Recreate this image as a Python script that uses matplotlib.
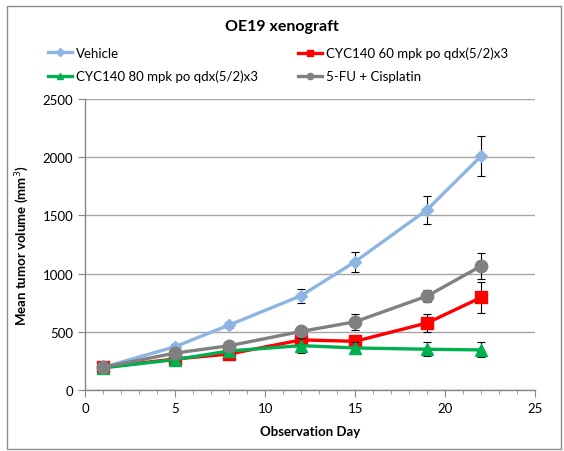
import matplotlib
matplotlib.use("Agg")
import matplotlib.pyplot as plt
from matplotlib.ticker import MultipleLocator
from matplotlib.patches import Rectangle
from matplotlib.lines import Line2D

plt.rcParams['font.family'] = ['Lato', 'DejaVu Sans']

days = [1, 5, 8, 12, 15, 19, 22]

vehicle = [195, 372, 558, 810, 1102, 1549, 2010]
vehicle_err = [15, 20, 25, 60, 85, 120, 170]

cyc60 = [195, 266, 309, 430, 418, 576, 795]
cyc60_err = [10, 15, 20, 30, 40, 75, 130]

cyc80 = [190, 261, 335, 381, 361, 350, 344]
cyc80_err = [10, 15, 20, 65, 50, 60, 65]

fu_cis = [195, 317, 380, 503, 586, 807, 1065]
fu_cis_err = [10, 15, 20, 30, 70, 55, 110]

labels = ["Vehicle", "CYC140 60 mpk po qdx(5/2)x3",
          "CYC140 80 mpk po qdx(5/2)x3", "5-FU + Cisplatin"]
colors = ["#8db4e2", "#ff0000", "#00b050", "#808080"]
markers = ["D", "s", "^", "o"]

fig = plt.figure(figsize=(5.64, 4.52), dpi=100)
ax = fig.add_axes([0.151, 0.135, 0.798, 0.644])

# rahmen um das ganze diagramm
fig.patches.append(Rectangle((0.012, 0.005), 0.982, 0.98, transform=fig.transFigure,
                             fill=False, edgecolor="#8c8c8c", linewidth=1.0))

err_kw = dict(ecolor="black", elinewidth=0.8, capsize=3, capthick=0.8)

ax.errorbar(days, vehicle, yerr=vehicle_err, color=colors[0], marker=markers[0],
            markersize=6, linewidth=2.4, zorder=3, **err_kw)
ax.errorbar(days, cyc60, yerr=cyc60_err, color=colors[1], marker=markers[1],
            markersize=8, linewidth=2.4, zorder=4, **err_kw)
ax.errorbar(days, cyc80, yerr=cyc80_err, color=colors[2], marker=markers[2],
            markersize=8, linewidth=2.4, zorder=5, **err_kw)
ax.errorbar(days, fu_cis, yerr=fu_cis_err, color=colors[3], marker=markers[3],
            markersize=9, linewidth=2.4, zorder=6, **err_kw)

ax.set_xlim(0, 25)
ax.set_ylim(0, 2500)
ax.xaxis.set_major_locator(MultipleLocator(5))
ax.xaxis.set_minor_locator(MultipleLocator(1))
ax.yaxis.set_major_locator(MultipleLocator(500))
ax.grid(axis="y", color="#a6a6a6", linewidth=1.0)
ax.set_axisbelow(True)

for s in ["top", "right"]:
    ax.spines[s].set_visible(False)
for s in ["left", "bottom"]:
    ax.spines[s].set_color("#868686")
    ax.spines[s].set_linewidth(1.0)
ax.tick_params(axis="both", which="major", length=5, color="#868686", labelsize=9.5)
ax.tick_params(axis="x", which="minor", length=3, color="#868686")

ax.set_xlabel("Observation Day", fontsize=9.5, fontweight="bold", labelpad=8)
ax.set_ylabel("Mean tumor volume (mm$^3$)", fontsize=9.5, fontweight="bold", labelpad=8)

fig.text(0.5, 0.94, "OE19 xenograft", ha="center", va="center",
         fontsize=11.5, fontweight="bold")

# legende: kleine marker, ohne fehlerbalken
handles = [Line2D([], [], color=c, marker=m, markersize=4.5, linewidth=2.4)
           for c, m in zip(colors, markers)]
leg_kw = dict(loc="center left", frameon=False, fontsize=9.5, handlelength=1.85,
              handletextpad=0.25, labelspacing=0.85, borderpad=0, borderaxespad=0)
leg1 = fig.legend([handles[0], handles[2]], [labels[0], labels[2]],
                  bbox_to_anchor=(0.085, 0.855), **leg_kw)
fig.legend([handles[1], handles[3]], [labels[1], labels[3]],
           bbox_to_anchor=(0.528, 0.855), **leg_kw)

fig.savefig("out.png", dpi=100)
